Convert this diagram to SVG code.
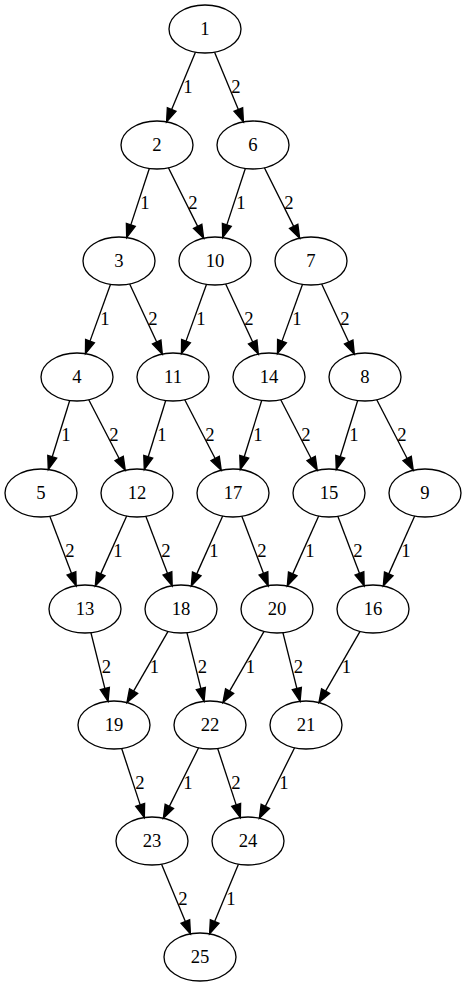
<svg xmlns="http://www.w3.org/2000/svg" width="467" height="987" viewBox="0 0 467 987">
<style>
.n ellipse{fill:none;stroke:#000;stroke-width:1.33}
text{font-family:"Liberation Serif","Times New Roman",serif;font-size:18.67px;fill:#000;text-anchor:middle}
.e path{fill:none;stroke:#000;stroke-width:1.33;marker-end:url(#ah)}
</style>
<defs>
<marker id="ah" markerUnits="userSpaceOnUse" orient="auto" refX="0" refY="0" markerWidth="16" markerHeight="12" overflow="visible">
<path d="M0,-4.67 L13.33,0 L0,4.67 Z" fill="#000" stroke="#000" stroke-width="1.33"/>
</marker>
</defs>
<rect width="467" height="987" fill="#fff"/>
<g id="edges" class="e">
<path d="M195.43,52.13 L171.66,109.58"/><text x="188" y="93">1</text>
<path d="M214.57,52.13 L238.34,109.58"/><text x="236" y="93">2</text>
<path d="M149.32,168.45 L130.82,224.91"/><text x="145" y="209">1</text>
<path d="M168.38,167.77 L197.67,226.33"/><text x="193" y="209">2</text>
<path d="M245.32,168.45 L226.82,224.91"/><text x="241" y="209">1</text>
<path d="M264.38,167.77 L293.67,226.33"/><text x="289" y="209">2</text>
<path d="M110.55,284.33 L89.99,341.14"/><text x="105" y="325">1</text>
<path d="M129.67,283.92 L156.70,341.99"/><text x="153" y="325">2</text>
<path d="M206.55,284.33 L185.99,341.14"/><text x="201" y="325">1</text>
<path d="M225.67,283.92 L252.70,341.99"/><text x="249" y="325">2</text>
<path d="M302.55,284.33 L281.99,341.14"/><text x="297" y="325">1</text>
<path d="M321.67,283.92 L348.70,341.99"/><text x="345" y="325">2</text>
<path d="M69.71,400.50 L52.24,456.77"/><text x="66" y="441">1</text>
<path d="M88.74,399.69 L119.14,458.47"/><text x="114" y="441">2</text>
<path d="M165.71,400.50 L148.24,456.77"/><text x="162" y="441">1</text>
<path d="M184.74,399.69 L215.14,458.47"/><text x="210" y="441">2</text>
<path d="M261.71,400.50 L244.24,456.77"/><text x="258" y="441">1</text>
<path d="M280.74,399.69 L311.14,458.47"/><text x="306" y="441">2</text>
<path d="M357.71,400.50 L340.24,456.77"/><text x="354" y="441">1</text>
<path d="M376.74,399.69 L407.14,458.47"/><text x="402" y="441">2</text>
<path d="M49.83,516.27 L71.45,573.29"/><text x="70" y="557">2</text>
<path d="M126.69,515.99 L100.75,573.87"/><text x="118" y="557">1</text>
<path d="M145.83,516.27 L167.45,573.29"/><text x="166" y="557">2</text>
<path d="M222.69,515.99 L196.75,573.87"/><text x="214" y="557">1</text>
<path d="M241.83,516.27 L263.45,573.29"/><text x="262" y="557">2</text>
<path d="M318.69,515.99 L292.75,573.87"/><text x="310" y="557">1</text>
<path d="M337.83,516.27 L359.45,573.29"/><text x="358" y="557">2</text>
<path d="M414.69,515.99 L388.75,573.87"/><text x="406" y="557">1</text>
<path d="M90.92,632.67 L104.85,688.43"/><text x="106.5" y="673">2</text>
<path d="M168.06,631.40 L133.59,691.08"/><text x="154.5" y="673">1</text>
<path d="M186.92,632.67 L200.85,688.43"/><text x="202.5" y="673">2</text>
<path d="M264.06,631.40 L229.59,691.08"/><text x="250.5" y="673">1</text>
<path d="M282.92,632.67 L296.85,688.43"/><text x="298.5" y="673">2</text>
<path d="M360.06,631.40 L325.59,691.08"/><text x="346.5" y="673">1</text>
<path d="M121.68,748.45 L140.18,804.91"/><text x="140" y="789">2</text>
<path d="M198.62,747.77 L169.33,806.33"/><text x="188" y="789">1</text>
<path d="M217.68,748.45 L236.18,804.91"/><text x="236" y="789">2</text>
<path d="M294.62,747.77 L265.33,806.33"/><text x="284" y="789">1</text>
<path d="M161.57,864.13 L185.34,921.58"/><text x="183" y="905">2</text>
<path d="M238.43,864.13 L214.66,921.58"/><text x="231" y="905">1</text>
</g>
<g id="n1" class="n"><ellipse cx="205" cy="29" rx="36" ry="24"/><text x="205" y="35">1</text></g>
<g id="n2" class="n"><ellipse cx="157" cy="145" rx="36" ry="24"/><text x="157" y="151">2</text></g>
<g id="n6" class="n"><ellipse cx="253" cy="145" rx="36" ry="24"/><text x="253" y="151">6</text></g>
<g id="n3" class="n"><ellipse cx="119" cy="261" rx="36" ry="24"/><text x="119" y="267">3</text></g>
<g id="n10" class="n"><ellipse cx="215" cy="261" rx="36" ry="24"/><text x="215" y="267">10</text></g>
<g id="n7" class="n"><ellipse cx="311" cy="261" rx="36" ry="24"/><text x="311" y="267">7</text></g>
<g id="n4" class="n"><ellipse cx="77" cy="377" rx="36" ry="24"/><text x="77" y="383">4</text></g>
<g id="n11" class="n"><ellipse cx="173" cy="377" rx="36" ry="24"/><text x="173" y="383">11</text></g>
<g id="n14" class="n"><ellipse cx="269" cy="377" rx="36" ry="24"/><text x="269" y="383">14</text></g>
<g id="n8" class="n"><ellipse cx="365" cy="377" rx="36" ry="24"/><text x="365" y="383">8</text></g>
<g id="n5" class="n"><ellipse cx="41" cy="493" rx="36" ry="24"/><text x="41" y="499">5</text></g>
<g id="n12" class="n"><ellipse cx="137" cy="493" rx="36" ry="24"/><text x="137" y="499">12</text></g>
<g id="n17" class="n"><ellipse cx="233" cy="493" rx="36" ry="24"/><text x="233" y="499">17</text></g>
<g id="n15" class="n"><ellipse cx="329" cy="493" rx="36" ry="24"/><text x="329" y="499">15</text></g>
<g id="n9" class="n"><ellipse cx="425" cy="493" rx="36" ry="24"/><text x="425" y="499">9</text></g>
<g id="n13" class="n"><ellipse cx="85" cy="609" rx="36" ry="24"/><text x="85" y="615">13</text></g>
<g id="n18" class="n"><ellipse cx="181" cy="609" rx="36" ry="24"/><text x="181" y="615">18</text></g>
<g id="n20" class="n"><ellipse cx="277" cy="609" rx="36" ry="24"/><text x="277" y="615">20</text></g>
<g id="n16" class="n"><ellipse cx="373" cy="609" rx="36" ry="24"/><text x="373" y="615">16</text></g>
<g id="n19" class="n"><ellipse cx="114" cy="725" rx="36" ry="24"/><text x="114" y="731">19</text></g>
<g id="n22" class="n"><ellipse cx="210" cy="725" rx="36" ry="24"/><text x="210" y="731">22</text></g>
<g id="n21" class="n"><ellipse cx="306" cy="725" rx="36" ry="24"/><text x="306" y="731">21</text></g>
<g id="n23" class="n"><ellipse cx="152" cy="841" rx="36" ry="24"/><text x="152" y="847">23</text></g>
<g id="n24" class="n"><ellipse cx="248" cy="841" rx="36" ry="24"/><text x="248" y="847">24</text></g>
<g id="n25" class="n"><ellipse cx="200" cy="957" rx="36" ry="24"/><text x="200" y="963">25</text></g>
</svg>
